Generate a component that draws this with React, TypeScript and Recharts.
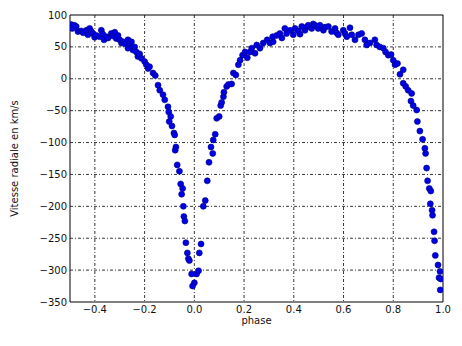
import {
  ScatterChart, Scatter,
  XAxis, YAxis, CartesianGrid,
  ReferenceLine,
} from 'recharts';

// phase / vitesse radiale (km/s)
const PHASE = [
  -0.495, -0.491, -0.483, -0.475, -0.468, -0.455, -0.447, -0.434, -0.428, -0.421,
  -0.414, -0.408, -0.401, -0.394, -0.381, -0.374, -0.368, -0.363, -0.354, -0.347,
  -0.334, -0.327, -0.320, -0.314, -0.307, -0.300, -0.293, -0.287, -0.280, -0.267,
  -0.260, -0.253, -0.267, -0.247, -0.240, -0.233, -0.227, -0.220, -0.213, -0.200,
  -0.193, -0.186, -0.180, -0.166, -0.157, -0.146, -0.139, -0.126, -0.119, -0.106,
  -0.103, -0.095, -0.101, -0.090, -0.082, -0.079, -0.074, -0.077, -0.069, -0.060,
  -0.055, -0.047, -0.051, -0.044, -0.042, -0.038, -0.034, -0.028, -0.024, -0.020,
  -0.011, 0.009, 0.017, 0.000, -0.007, 0.020, 0.027, 0.036, 0.044, 0.052,
  0.059, 0.074, 0.067, 0.076, 0.084, 0.090, 0.100, 0.106, 0.110, 0.117,
  0.119, 0.130, 0.137, 0.150, 0.157, 0.167, 0.177, 0.184, 0.194, 0.204,
  0.213, 0.224, 0.231, 0.244, 0.251, 0.264, 0.277, 0.293, 0.304, 0.317,
  0.315, 0.331, 0.344, 0.352, 0.364, 0.371, 0.385, 0.398, 0.405, 0.418,
  0.425, 0.432, 0.445, 0.452, 0.458, 0.472, 0.478, 0.485, 0.498, 0.505,
  0.519, 0.526, 0.539, 0.552, 0.566, 0.572, 0.579, 0.599, 0.606, 0.613,
  0.626, 0.633, 0.646, 0.660, 0.673, 0.686, 0.693, 0.706, 0.726, 0.733,
  0.746, 0.760, 0.769, 0.780, 0.791, 0.800, 0.807, 0.817, 0.827, 0.840,
  0.840, 0.850, 0.860, 0.874, 0.871, 0.880, 0.894, 0.897, 0.907, 0.918,
  0.927, 0.930, 0.934, 0.938, 0.945, 0.951, 0.949, 0.956, 0.958, 0.964,
  0.966, 0.969, 0.980, 0.988, 0.984, 0.991, 0.989,
];

const VITESSE = [
  85, 79, 84, 82, 74, 75, 72, 76, 69, 79,
  74, 71, 65, 68, 66, 76, 70, 61, 66, 64,
  71, 67, 73, 63, 68, 61, 56, 58, 55, 61,
  52, 58, 48, 45, 50, 42, 35, 39, 32, 27,
  22, 16, 19, 9, 5, -10, -18, -25, -33, -44,
  -52, -59, -67, -74, -85, -88, -107, -112, -135, -145,
  -165, -172, -181, -200, -216, -223, -257, -273, -282, -285,
  -306, -306, -301, -320, -325, -273, -259, -200, -191, -160,
  -131, -117, -107, -96, -87, -62, -59, -42, -37, -28,
  -21, -12, -9, -8, 9, 6, 22, 29, 37, 42,
  33, 42, 48, 40, 53, 48, 56, 61, 56, 58,
  66, 68, 71, 64, 79, 71, 76, 69, 79, 75,
  70, 82, 76, 81, 84, 79, 86, 84, 79, 84,
  76, 81, 82, 74, 79, 72, 69, 76, 71, 66,
  80, 69, 61, 69, 71, 61, 53, 56, 61, 53,
  50, 48, 42, 37, 38, 29, 22, 24, 7, 14,
  -7, -12, -18, -23, -35, -42, -49, -67, -82, -95,
  -109, -117, -140, -160, -172, -176, -196, -206, -214, -240,
  -254, -277, -292, -302, -312, -314, -331,
];

const X_TICKS = [-0.4, -0.2, 0, 0.2, 0.4, 0.6, 0.8, 1.0];
const Y_TICKS = [-350, -300, -250, -200, -150, -100, -50, 0, 50, 100];

const points = PHASE.map((p, i) => ({ phase: p, v: VITESSE[i] }));

const FONT = '"DejaVu Sans", sans-serif';
const minus = (s: string) => s.replace('-', '\u2212');

function Dot(props: any) {
  const { cx, cy } = props;
  if (cx == null || cy == null) return null;
  return <circle cx={cx} cy={cy} r={3} fill="#0000e6" stroke="#00007a" strokeWidth={0.6} />;
}

export default function App() {
  return (
    <div style={{ position: 'absolute', left: 0, top: 0, width: 462, height: 346, background: '#fff' }}>
      <ScatterChart width={462} height={346} margin={{ top: 15, right: 19, bottom: 0, left: 0 }}>
        <CartesianGrid
          stroke="#000"
          strokeDasharray="3 2 1 2"
          strokeWidth={0.8}
          verticalValues={[-0.4, -0.2, 0, 0.2, 0.4, 0.6, 0.8]}
          horizontalValues={[-300, -250, -200, -150, -100, -50, 0, 50]}
        />
        <XAxis
          type="number"
          dataKey="phase"
          domain={[-0.5, 1.0]}
          ticks={X_TICKS}
          allowDataOverflow
          height={44}
          tickSize={0}
          tickMargin={4}
          tickFormatter={(v: number) => minus(v.toFixed(1))}
          tick={{ fill: '#111', fontSize: 10, fontFamily: FONT }}
          axisLine={{ stroke: '#000', strokeWidth: 1 }}
          label={{ value: 'phase', position: 'insideBottom', offset: 22, fill: '#111', fontSize: 10, fontFamily: FONT }}
        />
        <YAxis
          type="number"
          dataKey="v"
          domain={[-350, 100]}
          ticks={Y_TICKS}
          allowDataOverflow
          width={70}
          tickSize={0}
          tickMargin={3}
          tickFormatter={(v: number) => minus(String(v))}
          tick={{ fill: '#111', fontSize: 10, fontFamily: FONT }}
          axisLine={{ stroke: '#000', strokeWidth: 1 }}
          label={(props: any) => {
            const vb = props.viewBox || { x: 0, y: 15, height: 287 };
            const x = vb.x + 14;
            const y = vb.y + vb.height / 2;
            return (
              <text
                x={x}
                y={y}
                transform={`rotate(-90 ${x} ${y})`}
                textAnchor="middle"
                dominantBaseline="central"
                fill="#111"
                fontSize={10}
                fontFamily={FONT}
              >
                Vitesse radiale en km/s
              </text>
            );
          }}
        />
        <ReferenceLine y={100} stroke="#000" strokeWidth={1} />
        <ReferenceLine x={1.0} stroke="#000" strokeWidth={1} />
        <Scatter data={points} shape={Dot} isAnimationActive={false} />
      </ScatterChart>
    </div>
  );
}
